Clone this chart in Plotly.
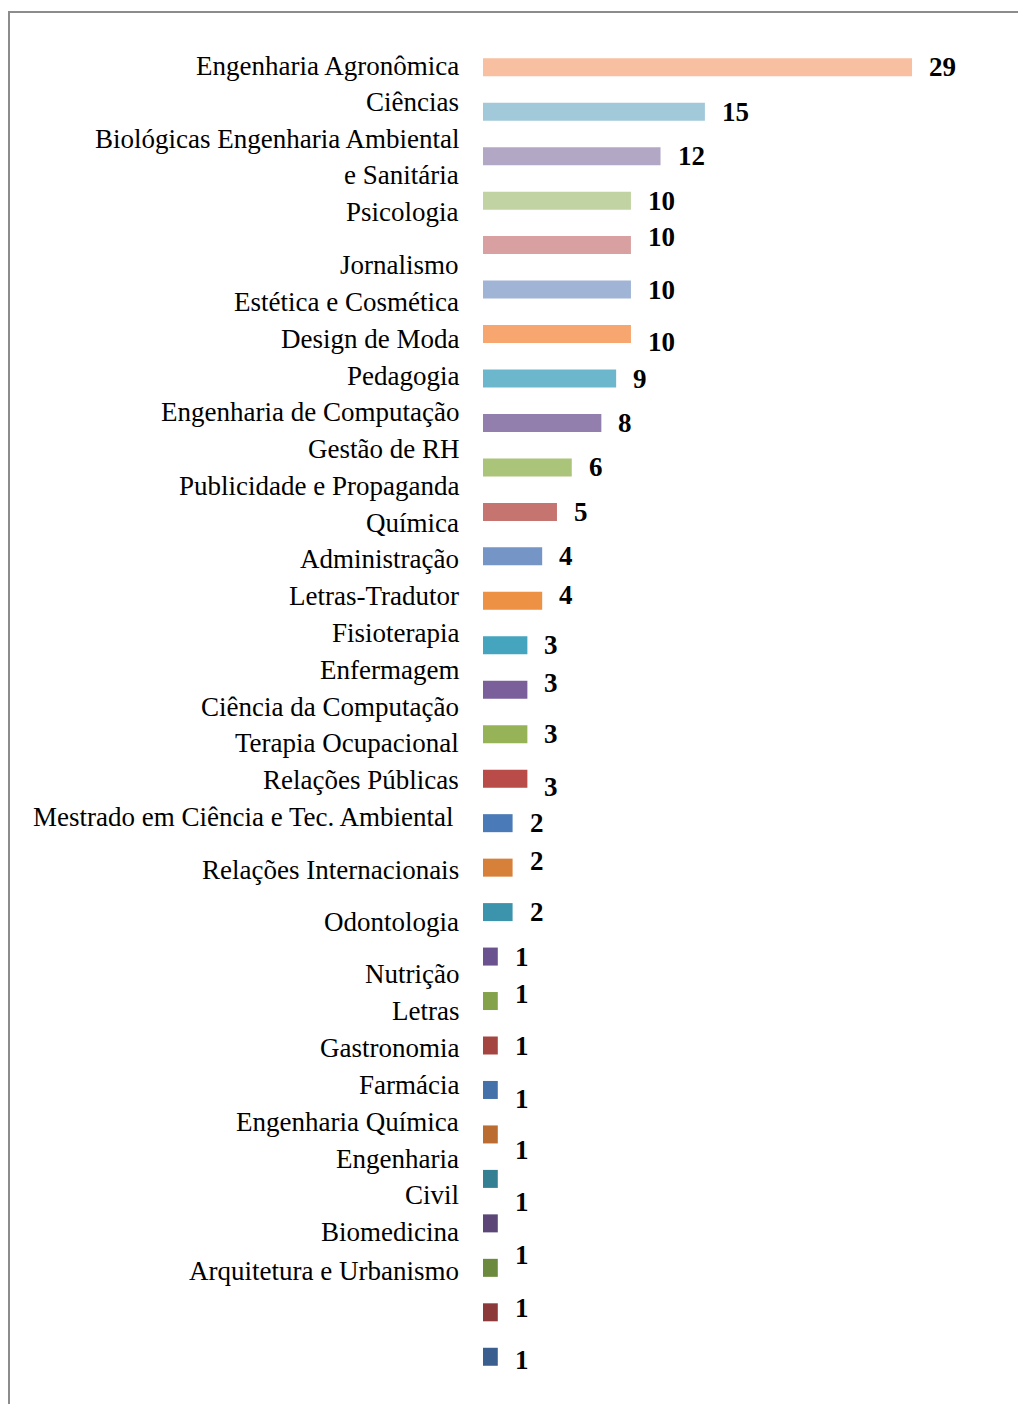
import plotly.graph_objects as go

# Courses and number of students per course
cursos = [
    "Engenharia Agronômica", "Ciências Biológicas", "Engenharia Ambiental e Sanitária",
    "Psicologia", "Jornalismo", "Estética e Cosmética", "Design de Moda", "Pedagogia",
    "Engenharia de Computação", "Gestão de RH", "Publicidade e Propaganda", "Química",
    "Administração", "Letras-Tradutor", "Fisioterapia", "Enfermagem",
    "Ciência da Computação", "Terapia Ocupacional", "Relações Públicas",
    "Mestrado em Ciência e Tec. Ambiental", "Relações Internacionais", "Odontologia",
    "Nutrição", "Letras", "Gastronomia", "Farmácia", "Engenharia Química",
    "Engenharia Civil", "Biomedicina", "Arquitetura e Urbanismo",
]
alunos = [29, 15, 12, 10, 10, 10, 10, 9, 8, 6, 5, 4, 4, 3, 3, 3, 3, 2, 2, 2,
          1, 1, 1, 1, 1, 1, 1, 1, 1, 1]

# Text lines of the category list on the left (wrapped as typeset)
linhas_rotulo = [
    "Engenharia Agronômica", "Ciências", "Biológicas Engenharia Ambiental", "e Sanitária",
    "Psicologia", "Jornalismo", "Estética e Cosmética", "Design de Moda", "Pedagogia",
    "Engenharia de Computação", "Gestão de RH", "Publicidade e Propaganda", "Química",
    "Administração", "Letras-Tradutor", "Fisioterapia", "Enfermagem",
    "Ciência da Computação", "Terapia Ocupacional", "Relações Públicas",
    "Mestrado em Ciência e Tec. Ambiental", "Relações Internacionais", "Odontologia",
    "Nutrição", "Letras", "Gastronomia", "Farmácia", "Engenharia Química",
    "Engenharia", "Civil", "Biomedicina", "Arquitetura e Urbanismo",
]

# ---- layout constants ----
W, H = 1018, 1404
M_L, M_R, M_T, M_B = 483, 32, 45, 25
X_MAX = 34
N = len(alunos)

cores = [
    "#F8BFA0", "#A2C9DA", "#B2A8C5", "#C1D3A3", "#D8A0A0", "#A0B4D5", "#F6A66E",
    "#6DB7CC", "#937FAE", "#AAC47A", "#C67470", "#7495C5", "#ED9145", "#45A4BE",
    "#7A5F9B", "#97B358", "#B94B49", "#4A7AB7", "#D7803A", "#3C94AC", "#6A528E",
    "#83A24A", "#A54542", "#4471A9", "#BA6C31", "#357F93", "#5B4677", "#6B8A3D",
    "#8C3A39", "#3A5F8E",
]

# vertical nudge (px, downward) of each value label; None = no label
desloc_valor = [0, 0, 0, 0, -8, 0, 8, 0, 0, 0, 0, 0, -6, 0, -7, 0, 8, 0, -7, 0,
                0, -7, 0, 9, 16, 23, 32, 40, 48, None]

# vertical centre (px from top) of each left-hand text line
pos_linhas = [66, 102, 139, 175, 212, 265, 302, 339, 376, 412, 449, 486, 523, 559,
              596, 633, 670, 707, 743, 780, 817, 870, 922, 974, 1011, 1048, 1085,
              1122, 1159, 1195, 1232, 1271]
dir_linhas = [461] * len(linhas_rotulo)
dir_linhas[20] = 455

plot_h = H - M_T - M_B
plot_w = W - M_L - M_R


def py(p):
    return (H - M_B - p) / plot_h


def px(p):
    return (p - M_L) / plot_w


SERIF = "Liberation Serif, Times New Roman, serif"

fig = go.Figure(
    go.Bar(
        x=alunos,
        y=list(range(N)),
        orientation="h",
        width=0.405,
        marker=dict(color=cores, line=dict(width=0)),
        hovertext=cursos,
        hoverinfo="text+x",
    )
)

annotations = []
for i, (v, d) in enumerate(zip(alunos, desloc_valor)):
    if d is None:
        continue
    annotations.append(dict(
        x=v, y=i, xref="x", yref="y", text=f"<b>{v}</b>", showarrow=False,
        xanchor="left", yanchor="middle", xshift=15, yshift=-d,
        font=dict(family=SERIF, size=27, color="black"),
    ))

for txt, ypx, xr in zip(linhas_rotulo, pos_linhas, dir_linhas):
    annotations.append(dict(
        x=px(xr), y=py(ypx), xref="paper", yref="paper", text=txt, showarrow=False,
        xanchor="right", yanchor="middle",
        font=dict(family=SERIF, size=27, color="black"),
    ))

shapes = [
    dict(type="line", xref="paper", yref="paper", x0=px(8), x1=px(W + 5),
         y0=py(12), y1=py(12), line=dict(color="#8C8C8C", width=2)),
    dict(type="line", xref="paper", yref="paper", x0=px(9), x1=px(9),
         y0=py(11), y1=py(H + 5), line=dict(color="#8C8C8C", width=2)),
]

fig.update_layout(
    width=W, height=H,
    margin=dict(l=M_L, r=M_R, t=M_T, b=M_B),
    paper_bgcolor="white", plot_bgcolor="white",
    showlegend=False,
    xaxis=dict(range=[0, X_MAX], visible=False, fixedrange=True),
    yaxis=dict(range=[N - 0.5, -0.5], visible=False, fixedrange=True),
    annotations=annotations,
    shapes=shapes,
)

fig.write_html("out.html", config={"displayModeBar": False})
